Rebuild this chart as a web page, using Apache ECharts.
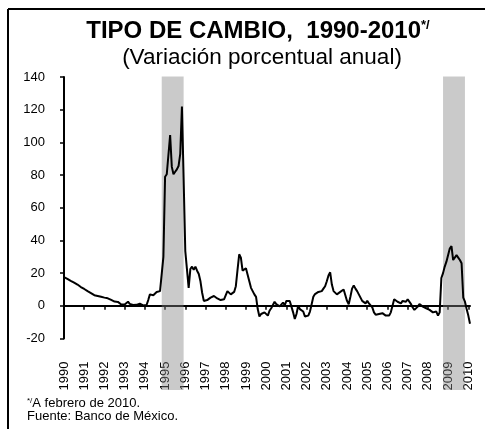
<!DOCTYPE html>
<html>
<head>
<meta charset="utf-8">
<title>Tipo de cambio 1990-2010</title>
<script src="https://cdn.jsdelivr.net/npm/echarts@6/dist/echarts.min.js"></script>
<style>
html, body { margin: 0; padding: 0; background: #fff; }
#main { width: 485px; height: 429px; }
</style>
</head>
<body>
<div id="main"></div>
<script>
// variacion porcentual anual, mensual ene-1990 a feb-2010
var variacion = [
  17.5, 17, 16.5, 16, 15.3, 14.8, 14.2, 13.5, 13, 12.2, 11.5, 11,       // 1990
  10.3, 9.6, 9, 8.3, 7.8, 7.2, 6.5, 6.2, 6, 5.8, 5.5, 5.3,              // 1991
  5, 5, 4.6, 4.2, 3.6, 3, 2.6, 1.8, 2.4, 1.2, 0.8, 0.8,                 // 1992
  0.8, 0.6, 2.5, 1.2, 0.5, 0.5, 0.3, 0.6, 1.2, 1.3, 0.6, 0.2,           // 1993
  0.3, 0.5, 3.5, 7, 8, 6.5, 6, 8.5, 9, 9, 9.2, 30,                      // 1994
  79, 80.5, 81.5, 104.5, 85, 80.5, 82, 83.5, 85.5, 93, 122, 78,         // 1995
  33.5, 32.5, 11, 22.5, 24, 22, 24, 21.5, 19.5, 15, 8, 3,               // 1996
  4, 3.5, 4, 5, 5.5, 6, 5.5, 4.5, 3.8, 3.5, 4.5, 4,                     // 1997
  4.5, 9, 8, 7, 6.3, 8.5, 12, 22, 31.5, 29.5, 21.5, 22.5,               // 1998
  23, 19, 15, 11, 9, 7, 5.5, -2, -6.5, -5, -5.5, -4,                    // 1999
  -5, -6, -3, -1.5, 0.5, 2.5, 1, 0, -0.3, 0, 2, 0.3,                    // 2000
  3, 3.5, 3, -0.5, -4, -8, -5, 0, -2, -2, -3.5, -6.5,                   // 2001
  -6.5, -6, -3.5, 1, 5.5, 7.2, 7.7, 8.5, 7.7, 9, 10.5, 12,              // 2002
  15, 18.5, 20.5, 13, 9, 8, 7, 7.5, 8.5, 9.5, 10, 6.5,                  // 2003
  3, 1, 5.5, 10.5, 12.5, 10.5, 9, 7, 5, 3, 2, 1.5,                      // 2004
  3, 1.5, 1, -1, -4, -5.5, -6, -5, -5, -4.5, -5.5, -6,                  // 2005
  -7, -6, -4, 0, 4, 5, 2.5, 1.5, 1.5, 3, 2, 2.5,                        // 2006
  4, 4.5, 1, -1, -2.5, -2.5, -0.5, 1, 0.5, -0.5, 0, -1.5,               // 2007
  -1, -2.5, -3.5, -4, -4.5, -3.5, -6, -4, 17, 20, 24, 27,               // 2008
  28, 35, 36.5, 28, 29, 31, 29.5, 28, 26, 5, 2.5, -2,                   // 2009
  -6, -11                                                               // 2010
];
var anioInicial = 1990;
// periodos sombreados (mes inicial, mes final)
var sombraInicio = ['1994-11', '2008-10'];
var sombraFin = ['1995-12', '2009-11'];

var meses = [];
for (var k = 0; k < variacion.length; k++) {
  var a = anioInicial + Math.floor(k / 12);
  var m = k % 12 + 1;
  meses.push(a + '-' + (m < 10 ? '0' + m : m));
}
var areas = [];
for (var j = 0; j < sombraInicio.length; j++) {
  areas.push([{ xAxis: sombraInicio[j] }, { xAxis: sombraFin[j] }]);
}

var fuente = 'Liberation Sans, Arial, sans-serif';
var chart = echarts.init(document.getElementById('main'));
var option = {
  animation: false,
  textStyle: { fontFamily: fuente },
  grid: [
    { left: 64, top: 77, width: 406, bottom: 90.5, outerBoundsMode: 'none' },
    { left: 64, top: 76.5, width: 406, bottom: 39, outerBoundsMode: 'none' }
  ],
  xAxis: [
    {
      type: 'category', data: meses, boundaryGap: false, gridIndex: 0,
      axisLine: { onZero: true, lineStyle: { color: '#000', width: 2 } },
      axisTick: { interval: function (i) { return i % 12 === 0; }, length: 4, lineStyle: { color: '#000', width: 1.5 } },
      axisLabel: { show: false },
      splitLine: { show: false }
    },
    {
      type: 'category', data: meses, boundaryGap: false, gridIndex: 0, position: 'bottom',
      axisLine: { show: false, onZero: false },
      axisTick: { show: false },
      splitLine: { show: false },
      axisLabel: {
        interval: function (i) { return i % 12 === 0; },
        formatter: function (v) { return v.slice(0, 4); },
        rotate: 90, margin: 23, fontSize: 13, color: '#000', fontFamily: fuente,
        padding: [7, 0, 0, 0]
      }
    },
    { type: 'category', data: meses, boundaryGap: false, gridIndex: 1, show: false }
  ],
  yAxis: [
    {
      type: 'value', min: -20, max: 140, interval: 20, gridIndex: 0,
      axisLine: { show: true, lineStyle: { color: '#000', width: 2 } },
      axisTick: { show: true, length: 4, lineStyle: { color: '#000', width: 1.5 } },
      splitLine: { show: false },
      axisLabel: { fontSize: 13, color: '#000', margin: 19, fontFamily: fuente }
    },
    { type: 'value', min: 0, max: 1, gridIndex: 1, show: false }
  ],
  series: [
    {
      type: 'line', data: variacion, xAxisIndex: 0, yAxisIndex: 0,
      symbol: 'none', lineStyle: { color: '#000', width: 2 }, z: 2
    },
    {
      type: 'line', data: [], xAxisIndex: 2, yAxisIndex: 1, z: 5, silent: true,
      markArea: {
        silent: true,
        itemStyle: { color: 'rgba(128,128,128,0.42)' },
        label: { show: false },
        data: areas
      }
    }
  ],
  graphic: [
    { type: 'line', shape: { x1: 8, y1: 9, x2: 485, y2: 9 }, style: { stroke: '#000', lineWidth: 2 } },
    { type: 'line', shape: { x1: 8, y1: 9, x2: 8, y2: 429 }, style: { stroke: '#000', lineWidth: 2 } },
    {
      type: 'text', x: 258, y: 31,
      style: {
        text: '{t|TIPO DE CAMBIO,  1990-2010}{s|*/}',
        rich: {
          t: { fontSize: 24, fontWeight: 'bold', fontFamily: fuente, fill: '#000' },
          s: { fontSize: 13, fontWeight: 'bold', fontFamily: fuente, fill: '#000', verticalAlign: 'top' }
        },
        fill: '#000', align: 'center', verticalAlign: 'middle', textAlign: 'center', textVerticalAlign: 'middle'
      }
    },
    {
      type: 'text', x: 262, y: 57.5,
      style: {
        text: '(Variación porcentual anual)',
        fontSize: 22.5, fontFamily: fuente, fill: '#000',
        align: 'center', verticalAlign: 'middle', textAlign: 'center', textVerticalAlign: 'middle'
      }
    },
    {
      type: 'text', x: 27, y: 403.5,
      style: {
        text: '{s|*/}{t|A febrero de 2010.}',
        rich: {
          t: { fontSize: 13, fontFamily: fuente, fill: '#000' },
          s: { fontSize: 8, fontFamily: fuente, fill: '#000', verticalAlign: 'top' }
        },
        fill: '#000', align: 'left', verticalAlign: 'middle', textAlign: 'left', textVerticalAlign: 'middle'
      }
    },
    {
      type: 'text', x: 27, y: 416.5,
      style: {
        text: 'Fuente: Banco de México.',
        fontSize: 13, fontFamily: fuente, fill: '#000',
        align: 'left', verticalAlign: 'middle', textAlign: 'left', textVerticalAlign: 'middle'
      }
    }
  ]
};
chart.setOption(option);
</script>
</body>
</html>
